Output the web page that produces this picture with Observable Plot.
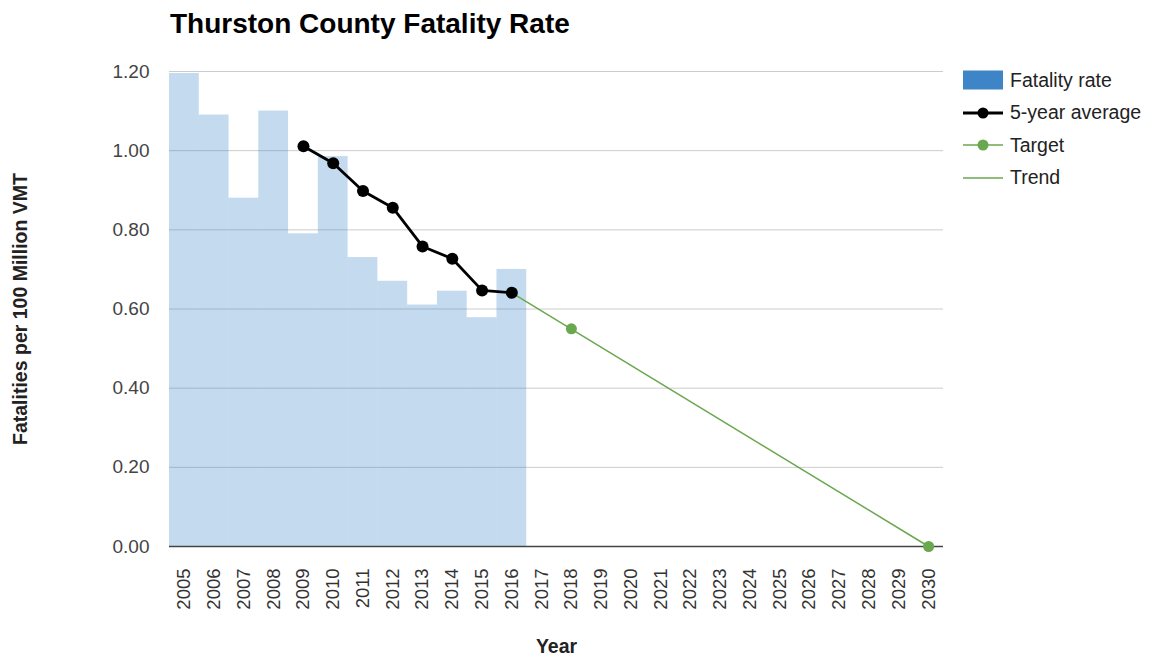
<!DOCTYPE html>
<html>
<head>
<meta charset="utf-8">
<script src="https://cdn.jsdelivr.net/npm/d3@7"></script>
<script src="https://cdn.jsdelivr.net/npm/@observablehq/plot@0.6"></script>
<style>
  html, body { margin: 0; padding: 0; background: #fff; }
  body { font-family: "Liberation Sans", Arial, sans-serif; }
  #wrap { position: relative; width: 1156px; height: 659px; overflow: hidden; }
  #title { position: absolute; left: 170px; top: 8px; font-size: 28px; font-weight: bold; color: #000; white-space: nowrap; }
  #legend { position: absolute; left: 963px; top: 64px; font-size: 19.5px; color: #222; white-space: nowrap; }
  .row { display: flex; align-items: center; height: 32.5px; }
  .row svg { margin-right: 7px; }
</style>
</head>
<body>
<div id="wrap">
  <div id="chart"></div>
  <div id="title">Thurston County Fatality Rate</div>
  <div id="legend"></div>
</div>
<script>
const years = d3.range(2005, 2031);
const rateYears = [2005, 2006, 2007, 2008, 2009, 2010, 2011, 2012, 2013, 2014, 2015, 2016];
const rateValues = [1.195, 1.09, 0.88, 1.10, 0.79, 0.985, 0.73, 0.67, 0.61, 0.645, 0.578, 0.70];
const avgYears = [2009, 2010, 2011, 2012, 2013, 2014, 2015, 2016];
const avgValues = [1.011, 0.968, 0.898, 0.856, 0.758, 0.727, 0.647, 0.641];
const targetYears = [2018, 2030];
const targetValues = [0.55, 0.0];
const trendYears = [2016, 2030];
const trendValues = [0.641, 0.0];
const yTicks = [0, 0.2, 0.4, 0.6, 0.8, 1.0, 1.2];

const rate = rateYears.map((y, i) => ({year: y, value: rateValues[i]}));
const avg = avgYears.map((y, i) => ({year: y, value: avgValues[i]}));
const target = targetYears.map((y, i) => ({year: y, value: targetValues[i]}));
const trend = trendYears.map((y, i) => ({year: y, value: trendValues[i]}));

const BLUE = "#3d85c6", GREEN = "#6aa84f";

const chart = Plot.plot({
  width: 1156,
  height: 659,
  marginLeft: 169,
  marginRight: 213,
  marginTop: 71,
  marginBottom: 113,
  style: {fontFamily: "'Liberation Sans', Arial, sans-serif", background: "#fff", overflow: "visible"},
  x: {type: "linear", domain: [2004.5, 2030.5]},
  y: {domain: [0, 1.2]},
  marks: [
    Plot.gridY(yTicks, {stroke: "#cccccc", strokeOpacity: 1, strokeWidth: 1}),
    Plot.rectY(rate, {x1: d => d.year - 0.5, x2: d => d.year + 0.5, y: "value", fill: BLUE, fillOpacity: 0.3}),
    Plot.ruleY([0], {stroke: "#444", strokeWidth: 1.3}),
    Plot.line(trend, {x: "year", y: "value", stroke: GREEN, strokeWidth: 1.5}),
    Plot.dot(target, {x: "year", y: "value", r: 5.5, fill: GREEN, stroke: "none"}),
    Plot.line(avg, {x: "year", y: "value", stroke: "#000", strokeWidth: 2.8}),
    Plot.dot(avg, {x: "year", y: "value", r: 6, fill: "#000", stroke: "none"}),
    Plot.axisY(yTicks, {tickSize: 0, tickPadding: 20, tickFormat: d => d.toFixed(2), fontSize: 19, fill: "#444",
      label: "Fatalities per 100 Million VMT", labelAnchor: "center", labelOffset: 156, labelArrow: "none"}),
    Plot.axisX(years, {tickSize: 0, tickPadding: 22, tickRotate: -90, tickFormat: d => String(d), fontSize: 18.5, fill: "#333",
      label: "Year", labelAnchor: "center", labelOffset: 106, labelArrow: "none"})
  ]
});
document.getElementById("chart").appendChild(chart);

// style axis labels bold
chart.querySelectorAll("g[aria-label='y-axis label'] text, g[aria-label='x-axis label'] text").forEach(t => {
  t.setAttribute("font-weight", "bold");
  t.setAttribute("font-size", "19.5");
  t.setAttribute("fill", "#222");
});

// legend
const legendItems = [
  {label: "Fatality rate", kind: "rect", color: BLUE},
  {label: "5-year average", kind: "linedot", color: "#000"},
  {label: "Target", kind: "linedot", color: GREEN},
  {label: "Trend", kind: "line", color: GREEN}
];
const legend = document.getElementById("legend");
for (const item of legendItems) {
  const row = document.createElement("div");
  row.className = "row";
  const ns = "http://www.w3.org/2000/svg";
  const s = document.createElementNS(ns, "svg");
  s.setAttribute("width", 40); s.setAttribute("height", 20);
  if (item.kind === "rect") {
    const r = document.createElementNS(ns, "rect");
    r.setAttribute("x", 0); r.setAttribute("y", 0.5); r.setAttribute("width", 40); r.setAttribute("height", 19);
    r.setAttribute("fill", item.color);
    s.appendChild(r);
  } else {
    const l = document.createElementNS(ns, "line");
    l.setAttribute("x1", 0); l.setAttribute("x2", 40); l.setAttribute("y1", 10); l.setAttribute("y2", 10);
    l.setAttribute("stroke", item.color);
    l.setAttribute("stroke-width", item.color === "#000" ? 2.8 : 1.5);
    s.appendChild(l);
    if (item.kind === "linedot") {
      const c = document.createElementNS(ns, "circle");
      c.setAttribute("cx", 20); c.setAttribute("cy", 10); c.setAttribute("r", 5.5);
      c.setAttribute("fill", item.color);
      s.appendChild(c);
    }
  }
  row.appendChild(s);
  const span = document.createElement("span");
  span.textContent = item.label;
  row.appendChild(span);
  legend.appendChild(row);
}
</script>
</body>
</html>
